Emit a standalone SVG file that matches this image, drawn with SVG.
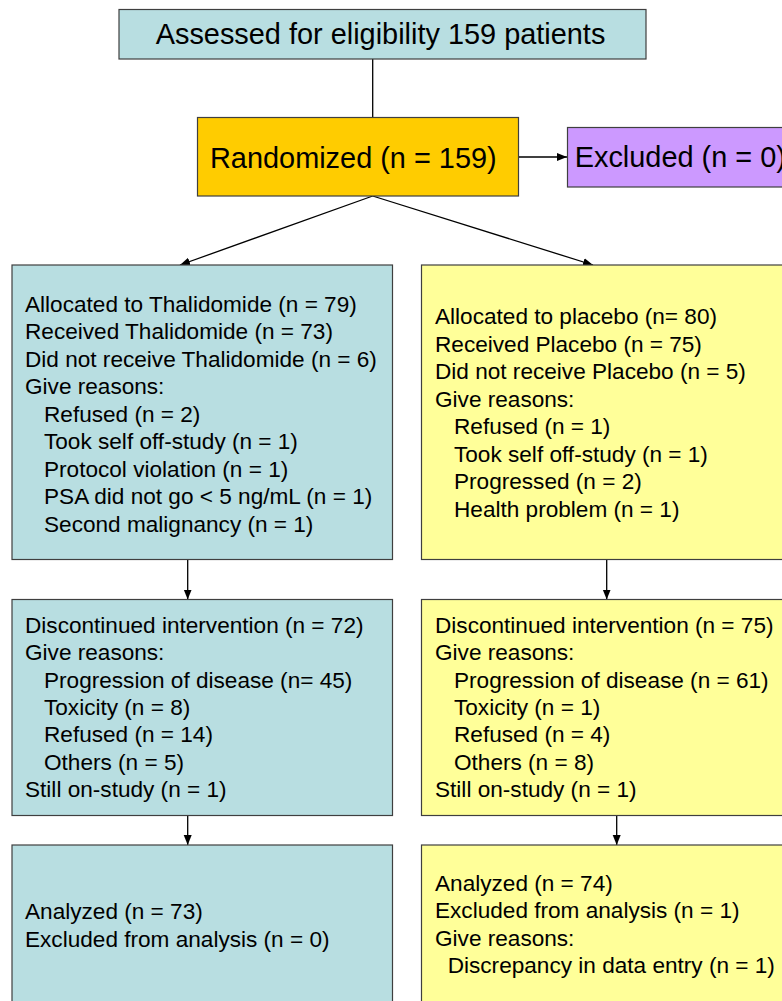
<svg xmlns="http://www.w3.org/2000/svg" width="782" height="1001" viewBox="0 0 782 1001">
<style>
.box{stroke:#3f3f3f;stroke-width:1.2}
.teal{fill:#b8dee1}
.yel{fill:#ffff99}
.org{fill:#ffcc00}
.pur{fill:#cc99ff}
text{font-family:"Liberation Sans",Arial,sans-serif;fill:#000}
.big{font-size:28.9px}
.t{font-size:22.6px}
.conn line{stroke:#000;stroke-width:1.3;fill:none}
</style>
<defs>
<marker id="ah" markerUnits="userSpaceOnUse" markerWidth="12" markerHeight="10" refX="10" refY="4" orient="auto">
<path d="M0,0 L10,4 L0,8 Z" fill="#000"/>
</marker>
</defs>
<rect width="782" height="1001" fill="#fff"/>
<g class="conn">
<line x1="372.7" y1="59" x2="372.7" y2="117.5"/>
<line x1="519" y1="157" x2="567" y2="157" marker-end="url(#ah)"/>
<line x1="372.7" y1="196" x2="180" y2="265" marker-end="url(#ah)"/>
<line x1="372.7" y1="196" x2="593" y2="265" marker-end="url(#ah)"/>
<line x1="187.7" y1="559.5" x2="187.7" y2="599.5" marker-end="url(#ah)"/>
<line x1="606.7" y1="559.5" x2="606.7" y2="599.5" marker-end="url(#ah)"/>
<line x1="187.7" y1="815.5" x2="187.7" y2="845" marker-end="url(#ah)"/>
<line x1="616.7" y1="815.5" x2="616.7" y2="845" marker-end="url(#ah)"/>
</g>
<g id="assessed">
<rect class="box teal" x="119" y="9.5" width="527" height="49.5"/>
<text class="big" x="155.7" y="44">Assessed for eligibility 159 patients</text>
</g>
<g id="randomized">
<rect class="box org" x="197.5" y="117.5" width="321" height="78.5"/>
<text class="big" x="210" y="167.7">Randomized (n = 159)</text>
</g>
<g id="excluded">
<rect class="box pur" x="567.5" y="127.5" width="240" height="59.5"/>
<text class="big" x="574.7" y="166.7">Excluded (n = 0)</text>
</g>
<g id="alloc-thal">
<rect class="box teal" x="12" y="265" width="380.5" height="294.5"/>
<text class="t" x="25" y="311.7">Allocated to Thalidomide (n = 79)</text>
<text class="t" x="25" y="339.2">Received Thalidomide (n = 73)</text>
<text class="t" x="25" y="366.7">Did not receive Thalidomide (n = 6)</text>
<text class="t" x="25" y="394.2">Give reasons:</text>
<text class="t" x="44" y="421.7">Refused (n = 2)</text>
<text class="t" x="44" y="449.2">Took self off-study (n = 1)</text>
<text class="t" x="44" y="476.7">Protocol violation (n = 1)</text>
<text class="t" x="44" y="504.2">PSA did not go &lt; 5 ng/mL (n = 1)</text>
<text class="t" x="44" y="531.7">Second malignancy (n = 1)</text>
</g>
<g id="alloc-plac">
<rect class="box yel" x="421.5" y="265" width="400" height="294.5"/>
<text class="t" x="435" y="324">Allocated to placebo (n= 80)</text>
<text class="t" x="435" y="351.5">Received Placebo (n = 75)</text>
<text class="t" x="435" y="379">Did not receive Placebo (n = 5)</text>
<text class="t" x="435" y="406.5">Give reasons:</text>
<text class="t" x="454" y="434">Refused (n = 1)</text>
<text class="t" x="454" y="461.5">Took self off-study (n = 1)</text>
<text class="t" x="454" y="489">Progressed (n = 2)</text>
<text class="t" x="454" y="516.5">Health problem (n = 1)</text>
</g>
<g id="disc-thal">
<rect class="box teal" x="12" y="599.5" width="380.5" height="216"/>
<text class="t" x="25" y="632.7">Discontinued intervention (n = 72)</text>
<text class="t" x="25" y="660.1">Give reasons:</text>
<text class="t" x="44" y="687.5">Progression of disease (n= 45)</text>
<text class="t" x="44" y="714.9">Toxicity (n = 8)</text>
<text class="t" x="44" y="742.3">Refused (n = 14)</text>
<text class="t" x="44" y="769.7">Others (n = 5)</text>
<text class="t" x="25" y="797.1">Still on-study (n = 1)</text>
</g>
<g id="disc-plac">
<rect class="box yel" x="421.5" y="599.5" width="400" height="216"/>
<text class="t" x="435" y="632.7">Discontinued intervention (n = 75)</text>
<text class="t" x="435" y="660.1">Give reasons:</text>
<text class="t" x="454" y="687.5">Progression of disease (n = 61)</text>
<text class="t" x="454" y="714.9">Toxicity (n = 1)</text>
<text class="t" x="454" y="742.3">Refused (n = 4)</text>
<text class="t" x="454" y="769.7">Others (n = 8)</text>
<text class="t" x="435" y="797.1">Still on-study (n = 1)</text>
</g>
<g id="anal-thal">
<rect class="box teal" x="12" y="845" width="380.5" height="200"/>
<text class="t" x="25" y="919">Analyzed (n = 73)</text>
<text class="t" x="25" y="946.5">Excluded from analysis (n = 0)</text>
</g>
<g id="anal-plac">
<rect class="box yel" x="421.5" y="845" width="400" height="200"/>
<text class="t" x="435" y="890.7">Analyzed (n = 74)</text>
<text class="t" x="435" y="918.2">Excluded from analysis (n = 1)</text>
<text class="t" x="435" y="945.7">Give reasons:</text>
<text class="t" x="447.7" y="973.2">Discrepancy in data entry (n = 1)</text>
</g>
</svg>
